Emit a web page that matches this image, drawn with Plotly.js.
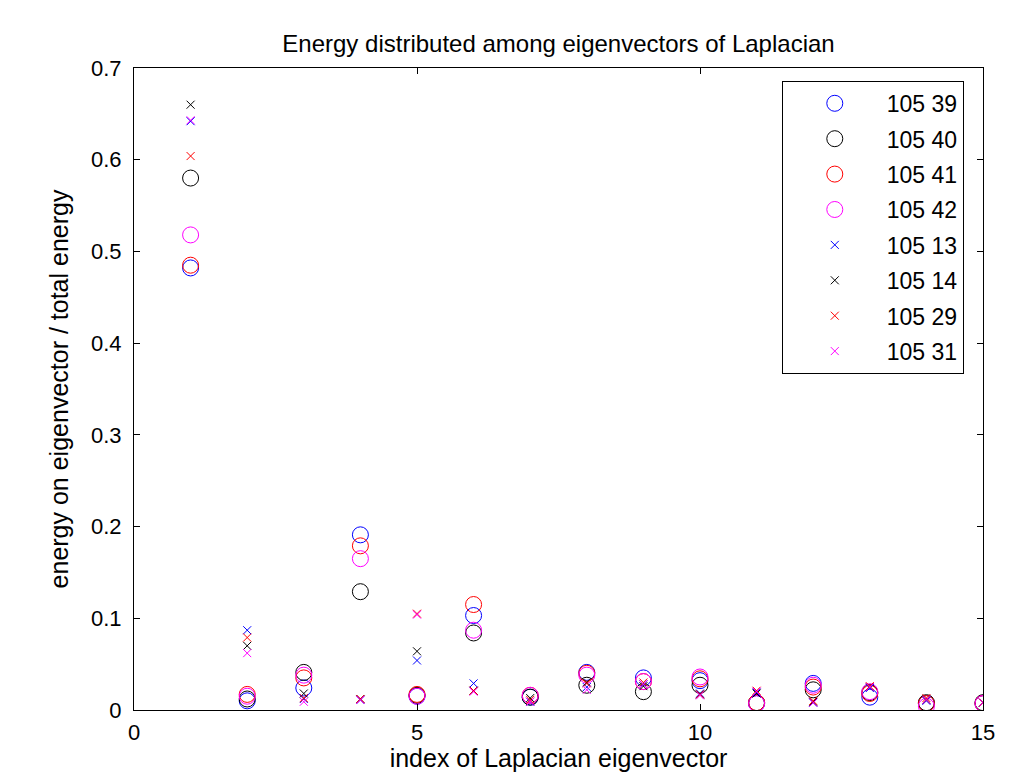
<!DOCTYPE html>
<html>
<head>
<meta charset="utf-8">
<script src="https://cdn.plot.ly/plotly-3.0.1.min.js"></script>
<style>html,body{margin:0;padding:0;background:#fff;}#chart{width:1034px;height:772px;}</style>
</head>
<body>
<div id="chart"></div>
<script>
const indices = [1,2,3,4,5,6,7,8,9,10,11,12,13,14,15];

const names = ['105 39','105 40','105 41','105 42','105 13','105 14','105 29','105 31'];
const colors = ['#0000ff','#000000','#ff0000','#ff00ff','#0000ff','#000000','#ff0000','#ff00ff'];
const symbols = ['circle-open','circle-open','circle-open','circle-open','x-thin-open','x-thin-open','x-thin-open','x-thin-open'];

const s105_39 = [0.482, 0.010, 0.024, 0.191, 0.015, 0.103, 0.014, 0.041, 0.035, 0.032, 0.007, 0.029, 0.014, 0.007, 0.007];
const s105_40 = [0.580, 0.012, 0.041, 0.129, 0.016, 0.084, 0.014, 0.027, 0.020, 0.027, 0.008, 0.022, 0.019, 0.008, 0.008];
const s105_41 = [0.485, 0.017, 0.035, 0.179, 0.017, 0.115, 0.016, 0.040, 0.031, 0.034, 0.008, 0.025, 0.018, 0.007, 0.007];
const s105_42 = [0.518, 0.015, 0.038, 0.165, 0.015, 0.087, 0.016, 0.038, 0.031, 0.036, 0.007, 0.027, 0.020, 0.004, 0.007];
const s105_13 = [0.642, 0.087, 0.012, 0.011, 0.054, 0.029, 0.009, 0.025, 0.028, 0.018, 0.019, 0.008, 0.024, 0.010, 0.008];
const s105_14 = [0.660, 0.070, 0.018, 0.012, 0.064, 0.021, 0.013, 0.030, 0.026, 0.017, 0.018, 0.009, 0.025, 0.011, 0.008];
const s105_29 = [0.604, 0.079, 0.013, 0.012, 0.105, 0.021, 0.011, 0.029, 0.030, 0.017, 0.021, 0.010, 0.026, 0.013, 0.008];
const s105_31 = [0.643, 0.062, 0.009, 0.011, 0.104, 0.020, 0.009, 0.022, 0.028, 0.016, 0.020, 0.008, 0.025, 0.011, 0.008];

const series = [s105_39, s105_40, s105_41, s105_42, s105_13, s105_14, s105_29, s105_31];

const xTicks = [0, 5, 10, 15];
const yTicks = [0, 0.1, 0.2, 0.3, 0.4, 0.5, 0.6, 0.7];

const traces = series.map((vals, i) => ({
  type: 'scatter',
  mode: 'markers',
  x: indices,
  y: vals,
  name: names[i],
  legendgroup: 'g' + i,
  marker: {
    symbol: symbols[i],
    size: symbols[i] === 'circle-open' ? 16 : 8,
    color: colors[i],
    line: {color: colors[i], width: 1}
  }
}));

const font = 'Liberation Sans, Arial, sans-serif';

const layout = {
  width: 1034,
  height: 772,
  margin: {l: 134, r: 51, t: 68, b: 62},
  paper_bgcolor: '#ffffff',
  plot_bgcolor: '#ffffff',
  font: {family: font, size: 22, color: '#000000'},
  title: {
    text: 'Energy distributed among eigenvectors of Laplacian',
    font: {family: font, size: 24, color: '#000000'},
    x: 0.5, xref: 'paper', xanchor: 'center',
    y: 1, yref: 'paper', yanchor: 'bottom', pad: {b: 16}
  },
  xaxis: {
    range: [0, 15],
    tickvals: xTicks,
    ticktext: xTicks.map(String),
    ticks: 'inside',
    ticklen: 6,
    tickcolor: '#000000',
    ticklabelstandoff: 3,
    showline: true,
    linecolor: '#000000',
    linewidth: 1,
    mirror: 'ticks',
    showgrid: false,
    zeroline: false,
    tickfont: {family: font, size: 22, color: '#000000'},
    title: {text: 'index of Laplacian eigenvector', font: {family: font, size: 25, color: '#000000'}, standoff: 22}
  },
  yaxis: {
    range: [0, 0.7],
    tickvals: yTicks,
    ticktext: yTicks.map(v => v === 0 ? '0' : v.toFixed(1)),
    ticks: 'inside',
    ticklen: 6,
    tickcolor: '#000000',
    ticklabelstandoff: 7,
    showline: true,
    linecolor: '#000000',
    linewidth: 1,
    mirror: 'ticks',
    showgrid: false,
    zeroline: false,
    tickfont: {family: font, size: 22, color: '#000000'},
    title: {text: 'energy on eigenvector / total energy', font: {family: font, size: 25, color: '#000000'}, standoff: 15}
  },
  legend: {
    x: 0.763, y: 0.98, xanchor: 'left', yanchor: 'top',
    bordercolor: '#000000', borderwidth: 1,
    bgcolor: '#ffffff',
    font: {family: font, size: 23, color: '#000000'},
    itemsizing: 'trace',
    itemwidth: 94,
    tracegroupgap: 2.5
  },
  showlegend: true
};

Plotly.newPlot('chart', traces, layout, {displayModeBar: false, staticPlot: true});
</script>
</body>
</html>
